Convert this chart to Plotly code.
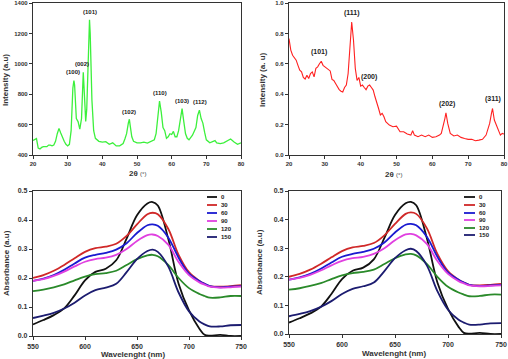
import plotly.graph_objects as go

# ---------------- data ----------------
xrd1_theta = [20, 20.5, 21, 21.5, 22, 22.5, 23, 24, 24.5, 25, 25.5, 26, 26.5, 27, 27.5, 28, 28.5, 29, 29.5, 30,
              30.5, 31, 31.5, 31.8, 32, 32.5, 33, 33.5, 34, 34.5, 35, 35.2, 35.5, 36, 36.3, 36.5, 37, 37.5, 38, 39,
              40, 41, 42, 43, 44, 45, 46, 46.5, 47, 47.5, 47.8, 48, 48.5, 49, 50, 51, 52, 53, 54, 55,
              55.5, 56, 56.5, 57, 57.5, 58, 58.5, 59, 59.5, 60, 60.5, 61, 61.5, 62, 62.5, 63, 63.5, 64, 64.5, 65,
              66, 66.5, 67, 67.5, 68, 68.5, 69, 69.5, 70, 71, 72, 72.5, 73, 74, 75, 76, 77, 78, 79, 80]
xrd1_int = [495, 500, 508, 445, 440, 450, 455, 455, 465, 465, 460, 465, 490, 540, 575, 545, 510, 490, 470, 460,
            470, 560, 840, 890, 860, 640, 620, 570, 640, 945, 720, 620, 700, 1100, 1290, 1200, 760, 560, 510, 490,
            485, 488, 470, 480, 460, 460, 475, 505, 540, 610, 635, 600, 520, 490, 480, 480, 485, 478, 490, 500,
            540, 640, 755, 680, 580, 560, 510, 520, 540, 535, 555, 520, 520, 560, 650, 705, 620, 540, 510, 500,
            530, 560, 580, 660, 695, 640, 610, 550, 500, 480, 490, 495, 480, 475, 480, 490, 505, 485, 470, 480]
xrd1_labels = ["(100)", "(002)", "(101)", "(102)", "(110)", "(103)", "(112)"]
xrd1_label_x = [31.5, 34.2, 36.3, 47.6, 56.6, 62.9, 68.1]
xrd1_label_y = [915, 965, 1310, 650, 775, 722, 715]

xrd2_theta = [20, 20.5, 21, 21.5, 22, 22.5, 23, 23.5, 24, 24.5, 25, 25.5, 26, 26.5, 27, 27.5, 28, 28.5, 29, 29.5,
              30, 30.5, 31, 31.5, 32, 32.5, 33, 33.5, 34, 34.5, 35, 35.5, 36, 36.5, 37, 37.5, 38, 38.5, 39, 39.5,
              40, 40.5, 41, 41.5, 42, 42.5, 43, 43.5, 44, 44.5, 45, 45.5, 46, 46.5, 47, 48, 49, 50, 50.5, 51,
              52, 53, 54, 54.5, 55, 56, 57, 58, 59, 60, 61, 62, 62.5, 63, 63.5, 63.8, 64.3, 65, 65.5, 66,
              67, 68, 69, 70, 71, 72, 73, 74, 75, 75.5, 76, 76.5, 76.8, 77.3, 78, 78.5, 79, 79.5, 80]
xrd2_int = [0.766, 0.69, 0.656, 0.635, 0.624, 0.59, 0.558, 0.547, 0.51, 0.50, 0.525, 0.503, 0.536, 0.547, 0.514, 0.57, 0.58, 0.60, 0.617, 0.59,
            0.58, 0.57, 0.558, 0.553, 0.497, 0.49, 0.47, 0.444, 0.43, 0.42, 0.415, 0.444, 0.46, 0.536, 0.69, 0.875, 0.755, 0.57, 0.49, 0.51,
            0.453, 0.46, 0.444, 0.43, 0.453, 0.46, 0.444, 0.427, 0.383, 0.35, 0.306, 0.263, 0.274, 0.252, 0.219, 0.197, 0.186, 0.19, 0.168, 0.153,
            0.153, 0.138, 0.131, 0.16, 0.131, 0.12, 0.131, 0.12, 0.131, 0.116, 0.12, 0.131, 0.142, 0.186, 0.24, 0.278, 0.208, 0.142, 0.131, 0.125,
            0.131, 0.116, 0.109, 0.103, 0.103, 0.094, 0.098, 0.103, 0.131, 0.175, 0.208, 0.274, 0.306, 0.23, 0.186, 0.153, 0.131, 0.142, 0.138]
xrd2_labels = ["(101)", "(111)", "(200)", "(202)", "(311)"]
xrd2_label_x = [28.5, 37.6, 42.3, 64.0, 76.9]
xrd2_label_y = [0.64, 0.895, 0.475, 0.295, 0.33]

wavelength = [550, 560, 570, 580, 590, 600, 610, 620, 630, 640, 650, 660, 665, 670, 680, 690, 700, 710, 715, 720, 730, 740, 750]
series_names = ["0", "30", "60", "90", "120", "150"]
abs_0 = [0.040, 0.055, 0.072, 0.095, 0.140, 0.192, 0.221, 0.232, 0.261, 0.336, 0.416, 0.457, 0.462, 0.450, 0.336, 0.180, 0.088, 0.025, 0.004, 0.001, 0.004, 0.0, 0.0]
abs_30 = [0.200, 0.210, 0.225, 0.245, 0.268, 0.290, 0.303, 0.308, 0.318, 0.345, 0.385, 0.420, 0.425, 0.420, 0.370, 0.280, 0.220, 0.190, 0.180, 0.172, 0.170, 0.172, 0.175]
abs_60 = [0.190, 0.198, 0.210, 0.228, 0.250, 0.270, 0.280, 0.287, 0.298, 0.320, 0.355, 0.382, 0.385, 0.380, 0.340, 0.270, 0.215, 0.190, 0.180, 0.172, 0.168, 0.170, 0.172]
abs_90 = [0.190, 0.196, 0.207, 0.222, 0.240, 0.256, 0.265, 0.270, 0.280, 0.300, 0.328, 0.348, 0.350, 0.345, 0.315, 0.255, 0.210, 0.185, 0.177, 0.170, 0.167, 0.168, 0.170]
abs_120 = [0.155, 0.160, 0.168, 0.178, 0.192, 0.205, 0.213, 0.217, 0.225, 0.245, 0.265, 0.278, 0.280, 0.275, 0.245, 0.200, 0.165, 0.145, 0.138, 0.132, 0.133, 0.138, 0.138]
abs_150 = [0.062, 0.070, 0.080, 0.095, 0.115, 0.140, 0.158, 0.167, 0.180, 0.220, 0.265, 0.293, 0.298, 0.290, 0.240, 0.150, 0.085, 0.050, 0.040, 0.033, 0.033, 0.037, 0.038]
abs_series = [abs_0, abs_30, abs_60, abs_90, abs_120, abs_150]
abs_colors = ["#111111", "#d02828", "#1a1ad0", "#e040e0", "#2a8a2a", "#1c1c70"]

FONT = "Liberation Sans"
W, H = 508, 359

fig = go.Figure()

fig.add_trace(go.Scatter(x=xrd1_theta, y=xrd1_int, mode="lines", line=dict(color="#3cf03c", width=1.3),
                         xaxis="x", yaxis="y", showlegend=False))
fig.add_trace(go.Scatter(x=xrd2_theta, y=xrd2_int, mode="lines", line=dict(color="#ff2020", width=1.1),
                         xaxis="x2", yaxis="y2", showlegend=False))

for vals, col in zip(abs_series, abs_colors):
    for xa, ya in (("x3", "y3"), ("x4", "y4")):
        fig.add_trace(go.Scatter(x=wavelength, y=vals, mode="lines",
                                 line=dict(color=col, width=1.8, shape="spline", smoothing=1.0),
                                 xaxis=xa, yaxis=ya, showlegend=False))

annotations = []
shapes = []
for t, x, y in zip(xrd1_labels, xrd1_label_x, xrd1_label_y):
    annotations.append(dict(x=x, y=y, xref="x", yref="y", text=t, showarrow=False,
                            font=dict(size=6, family=FONT, color="#222", weight="bold"), yanchor="bottom"))
for t, x, y in zip(xrd2_labels, xrd2_label_x, xrd2_label_y):
    annotations.append(dict(x=x, y=y, xref="x2", yref="y2", text=t, showarrow=False,
                            font=dict(size=7, family=FONT, color="#222", weight="bold"), yanchor="bottom"))


def px(xp):
    return xp / W


def py(yp):
    return 1 - yp / H


def title(text, xp, yp, angle=0, size=8):
    annotations.append(dict(x=px(xp), y=py(yp), xref="paper", yref="paper", text=text, showarrow=False,
                            textangle=angle, xanchor="center", yanchor="middle",
                            font=dict(size=size, family=FONT, color="#333", weight="bold")))


title("2θ <span style='font-weight:normal;font-size:6px'>(°)</span>", 137, 173)
title("2θ <span style='font-weight:normal;font-size:6px'>(°)</span>", 393, 174)
title("Intensity (a.u)", 6, 80, angle=-90)
title("Intensity (a. u)", 263, 80, angle=-90)
title("Absorbance (a.u)", 6, 263, angle=-90)
title("Absorbance (a.u)", 259, 262, angle=-90)
title("Wavelenght (nm)", 133, 354)
title("Wavelenght (nm)", 394, 353)

# legends (drawn as shapes + labels)
legend_specs = [(207, 217, 219, [197, 205, 213, 221, 229, 237]),
                (464, 475, 477, [197, 205, 213, 220, 228, 235])]
for x0, x1, xt, rows in legend_specs:
    for name, col, yr in zip(series_names, abs_colors, rows):
        shapes.append(dict(type="line", xref="paper", yref="paper", x0=px(x0), x1=px(x1), y0=py(yr), y1=py(yr),
                           line=dict(color=col, width=1.8)))
        annotations.append(dict(x=px(xt), y=py(yr), xref="paper", yref="paper", text=name, showarrow=False,
                                xanchor="left", yanchor="middle",
                                font=dict(size=6, family=FONT, color="#222", weight="bold")))


def ax(domain, rng, dtick, anchor, fs=6, fmt=None):
    d = dict(domain=domain, range=rng, dtick=dtick, tick0=rng[0], anchor=anchor, showgrid=False, zeroline=False,
             automargin=False, showline=True, linecolor="#333", linewidth=1.3, mirror=True, ticks="outside",
             ticklen=3, tickcolor="#333", tickwidth=1,
             tickfont=dict(size=fs, family=FONT, color="#333", weight="bold"))
    if fmt:
        d["tickformat"] = fmt
    return d


fig.update_layout(
    width=W, height=H, margin=dict(l=0, r=0, t=0, b=0, autoexpand=False),
    paper_bgcolor="white", plot_bgcolor="white",
    font=dict(family=FONT),
    xaxis=ax([px(33), px(241)], [20, 80], 10, "y"),
    yaxis=ax([py(155), py(3)], [400, 1400], 200, "x"),
    xaxis2=ax([px(289), px(504)], [20, 80], 10, "y2"),
    yaxis2=ax([py(155), py(3)], [0, 1.0], 0.2, "x2", fmt=".1f"),
    xaxis3=ax([px(33), px(241)], [550, 750], 50, "y3", fs=7),
    yaxis3=ax([py(336), py(191)], [0, 0.5], 0.1, "x3", fs=7, fmt=".1f"),
    xaxis4=ax([px(289), px(501)], [550, 750], 50, "y4", fs=7),
    yaxis4=ax([py(334), py(191)], [0, 0.5], 0.1, "x4", fs=7, fmt=".1f"),
    annotations=annotations,
    shapes=shapes,
    showlegend=False,
)

fig.write_html("out.html", config={"displayModeBar": False},
               post_script="document.body.style.margin='0';document.body.style.overflow='hidden';")
